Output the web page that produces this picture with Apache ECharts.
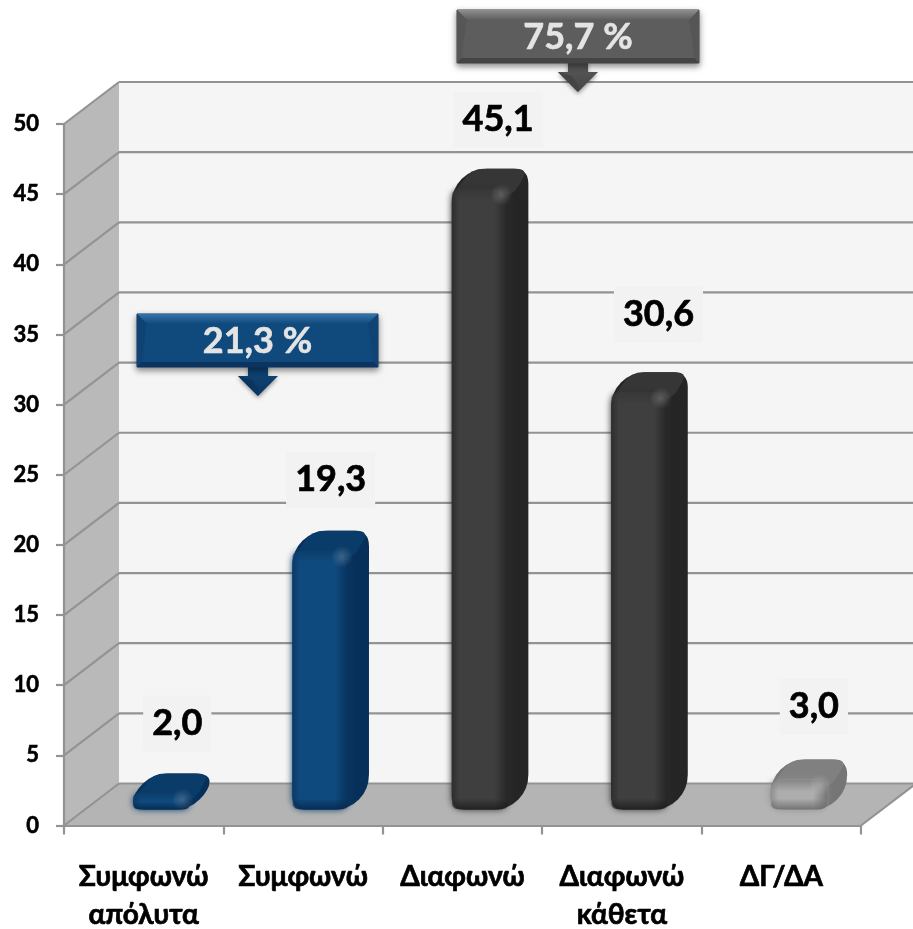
<!DOCTYPE html>
<html><head><meta charset="utf-8">
<style>html,body{margin:0;padding:0;background:#fff}#c{width:913px;height:929px}</style>
<script src="https://cdn.jsdelivr.net/npm/echarts@6/dist/echarts.min.js"></script>
</head><body><div id="c"></div>
<script>
const categories = ['Συμφωνώ\nαπόλυτα','Συμφωνώ','Διαφωνώ','Διαφωνώ\nκάθετα','ΔΓ/ΔΑ'];
const values = [2.0,19.3,45.1,30.6,3.0];
const valueLabels = ['2,0','19,3','45,1','30,6','3,0'];
const yTicks = [0,5,10,15,20,25,30,35,40,45,50];
const callouts = ['75,7 %','21,3 %'];

const FONT = 'Lato, "Noto Sans", sans-serif';
const WALL_DX = 55, WALL_DY = -42, GRID = '#939393';
const PAL = [
 {c:'#0f4a7f',e:'#0a3a66',s:'#06305a',t:'#0a3c69',edge:'#05274c'},
 {c:'#0f4a7f',e:'#0a3a66',s:'#06305a',t:'#0a3c69',edge:'#05274c'},
 {c:'#3f3f3f',e:'#2e2e2e',s:'#252525',t:'#363636',edge:'#1c1c1c'},
 {c:'#3f3f3f',e:'#2e2e2e',s:'#252525',t:'#363636',edge:'#1c1c1c'},
 {c:'#adadad',e:'#8e8e8e',s:'#757575',t:'#808080',edge:'#6a6a6a'}
];
const LABEL_NUDGE = [[6,1],[0,0],[8,2],[9,-7],[5,-2]];

function alpha(hex,a){
  const n=parseInt(hex.slice(1),16);
  return 'rgba('+(n>>16)+','+((n>>8)&255)+','+(n&255)+','+a+')';
}
function roundPoly(pts,r){
  let d='';const n=pts.length;
  for(let i=0;i<n;i++){
    const p=pts[i],a=pts[(i+n-1)%n],b=pts[(i+1)%n];
    const la=Math.hypot(a[0]-p[0],a[1]-p[1]),lb=Math.hypot(b[0]-p[0],b[1]-p[1]);
    const ra=Math.min(r,la/2),rb=Math.min(r,lb/2);
    const s=[p[0]+(a[0]-p[0])*ra/la,p[1]+(a[1]-p[1])*ra/la];
    const e=[p[0]+(b[0]-p[0])*rb/lb,p[1]+(b[1]-p[1])*rb/lb];
    d+=(i?'L':'M')+s[0]+' '+s[1]+'Q'+p[0]+' '+p[1]+' '+e[0]+' '+e[1];
  }
  return d+'Z';
}
function lin(x0,y0,x1,y1,stops){return {type:'linear',x:x0,y:y0,x2:x1,y2:y1,colorStops:stops.map(s=>({offset:s[0],color:s[1]}))};}

function renderWalls(params,api){
  const v=api.value(0),cs=params.coordSys;
  const x0=cs.x,x1=cs.x+cs.width,y=api.coord([0,v])[1];
  const lineStyle={stroke:GRID,lineWidth:2.2};
  const seg=(a,b,c,d)=>({type:'line',shape:{x1:a,y1:b,x2:c,y2:d},style:lineStyle});
  const kids=[];
  if(params.dataIndex===0){
    const yb=y,yt=api.coord([0,yTicks[yTicks.length-1]])[1];
    kids.push({type:'polygon',shape:{points:[[x0+WALL_DX,yt+WALL_DY],[x1+WALL_DX,yt+WALL_DY],[x1+WALL_DX,yb+WALL_DY],[x0+WALL_DX,yb+WALL_DY]]},style:{fill:'#f5f5f5'}});
    kids.push({type:'polygon',shape:{points:[[x0,yt],[x0+WALL_DX,yt+WALL_DY],[x0+WALL_DX,yb+WALL_DY],[x0,yb]]},style:{fill:'#b9b9b9'}});
    kids.push({type:'polygon',shape:{points:[[x0,yb],[x1,yb],[x1+WALL_DX,yb+WALL_DY],[x0+WALL_DX,yb+WALL_DY]]},style:{fill:'#b4b4b4'}});
    kids.push(seg(x1,yb,x1+WALL_DX,yb+WALL_DY));
  }
  kids.push(seg(x0,y,x0+WALL_DX,y+WALL_DY));
  kids.push(seg(x0+WALL_DX,y+WALL_DY,x1+WALL_DX,y+WALL_DY));
  return {type:'group',children:kids};
}

function renderBars(params,api){
  const i=api.value(0),v=api.value(1),p=PAL[i];
  const c=api.coord([i,v]),y0=api.coord([i,0])[1];
  const band=api.size([1,0])[0];
  const w=band*0.355,d=20;
  const xl=c[0]+band*0.173-w/2-d/2,xr=xl+w;
  const yt=c[1]-4,yb=y0-16;
  const r=Math.min(12,(yb-yt)/2);
  const h=yb-yt,ed=Math.min(11,h/2),td=Math.min(12,h/2);
  const kids=[];
  kids.push({type:'path',shape:{pathData:roundPoly([[xl,yb],[xr,yb],[xr+d,yb-d],[xr+d,yt-d],[xl+d,yt-d],[xl,yt]],15)},style:{fill:p.s}});
  kids.push({type:'path',shape:{pathData:roundPoly([[xl,yt+8],[xr+4,yt+8],[xr+d,yt-d],[xl+d,yt-d]],12)},style:{fill:p.t}});
  kids.push({type:'path',shape:{pathData:roundPoly([[xl,yt],[xr,yt],[xr,yb],[xl,yb]],r)},
    style:{fill:lin(0,0,1,0,[[0,p.e],[0.14,p.c],[0.75,p.c],[1,p.s]]),shadowBlur:7,shadowColor:p.e}});
  kids.push({type:'path',shape:{pathData:roundPoly([[xl,yb-ed],[xr,yb-ed],[xr,yb],[xl,yb]],Math.min(r,ed))},
    style:{fill:lin(0,0,0,1,[[0,alpha(p.edge,0)],[1,alpha(p.edge,0.85)]])}});
  kids.push({type:'path',shape:{pathData:roundPoly([[xl,yt],[xr,yt],[xr,yt+td],[xl,yt+td]],Math.min(r,td))},
    style:{fill:lin(0,0,0,1,[[0,alpha(p.t,0.9)],[1,alpha(p.t,0)]])}});
  kids.push({type:'circle',shape:{cx:xr-7,cy:yt+6,r:11},
    style:{fill:{type:'radial',x:0.5,y:0.5,r:0.5,colorStops:[{offset:0,color:'rgba(255,255,255,0.2)'},{offset:1,color:'rgba(255,255,255,0)'}]}}});
  return {type:'group',children:kids};
}

function renderLabels(params,api){
  const i=api.value(0),v=api.value(1);
  const c=api.coord([i,v]),band=api.size([1,0])[0],n=LABEL_NUDGE[i];
  return {type:'text',style:{text:valueLabels[i],x:c[0]+band*0.173+n[0],y:c[1]-75+n[1],
    align:'center',verticalAlign:'middle',font:'bold 36px '+FONT,fill:'#000',stroke:'#000',lineWidth:0.7,
    backgroundColor:'#f2f2f2',padding:[10,9,10,9]}};
}

function callout(x,y,w,h,ax,tip,text,col){
  const head=20,stem=10,headTop=y+h+9;
  return [
   {type:'polygon',z:50,shape:{points:[[ax-stem,y+h-3],[ax+stem,y+h-3],[ax+stem,headTop],[ax+head,headTop],[ax,tip],[ax-head,headTop],[ax-stem,headTop]]},
    style:{fill:lin(0,0,0,1,[[0,col.mid],[1,col.dark]]),shadowBlur:4,shadowColor:'rgba(0,0,0,0.4)',shadowOffsetY:2}},
   {type:'polygon',z:50,shape:{points:[[ax,tip],[ax-head,headTop],[ax-stem*0.6,headTop+4],[ax,tip-7]]},style:{fill:col.dark}},
   {type:'rect',z:51,shape:{x,y,width:w,height:h},style:{fill:col.mid,stroke:col.dark,lineWidth:1,shadowBlur:6,shadowColor:'rgba(0,0,0,0.45)',shadowOffsetY:3}},
   {type:'polygon',z:52,shape:{points:[[x,y],[x+w,y],[x+w-10,y+10],[x+10,y+10]]},style:{fill:lin(0,0,0,1,[[0,col.light],[1,col.mid]])}},
   {type:'polygon',z:52,shape:{points:[[x,y+h],[x+w,y+h],[x+w-4,y+h-5],[x+4,y+h-5]]},style:{fill:col.dark}},
   {type:'polygon',z:52,shape:{points:[[x,y],[x+10,y+10],[x+4,y+h-5],[x,y+h]]},style:{fill:col.side}},
   {type:'polygon',z:52,shape:{points:[[x+w,y],[x+w-10,y+10],[x+w-4,y+h-5],[x+w,y+h]]},style:{fill:col.side}},
   {type:'text',z:53,style:{text,x:x+w/2,y:y+h/2+1,align:'center',verticalAlign:'middle',font:'bold 36px '+FONT,fill:'#e4e4e4',stroke:'#e4e4e4',lineWidth:0.6}}
  ];
}
const GREY={mid:'#5d5d5d',dark:'#444444',light:'#8f8f8f',side:'#565656'};
const BLUE={mid:'#10497c',dark:'#0b3560',light:'#3274aa',side:'#0e4373'};

const chart=echarts.init(document.getElementById('c'),null,{renderer:'canvas'});
chart.setOption({
  animation:false,
  backgroundColor:'#ffffff',
  textStyle:{fontFamily:FONT},
  grid:{left:64,right:52,top:124,bottom:103.5,containLabel:false,outerBoundsMode:'none'},
  xAxis:{type:'category',data:categories,z:10,boundaryGap:true,
    axisLine:{lineStyle:{color:GRID,width:2.2}},
    axisTick:{show:true,length:9,alignWithLabel:false,lineStyle:{color:GRID,width:2.2}},
    axisLabel:{interval:0,color:'#000',fontWeight:'bold',fontSize:28,lineHeight:38,margin:32,fontFamily:FONT,textBorderColor:'#000',textBorderWidth:0.7}},
  yAxis:{type:'value',min:0,max:50,interval:5,z:10,
    axisLine:{show:true,lineStyle:{color:GRID,width:2.2}},
    axisTick:{show:true,length:8,lineStyle:{color:GRID,width:2.2}},
    splitLine:{show:false},
    axisLabel:{color:'#000',fontWeight:'bold',fontSize:22,margin:25,fontFamily:FONT,textBorderColor:'#000',textBorderWidth:0.6}},
  series:[
    {type:'custom',name:'walls',silent:true,clip:false,z:1,coordinateSystem:'cartesian2d',encode:{x:-1,y:0},
      data:yTicks.map(v=>[v]),renderItem:renderWalls},
    {type:'custom',name:'bars',clip:false,z:3,encode:{x:0,y:1},
      data:values.map((v,i)=>[i,v]),renderItem:renderBars},
    {type:'custom',name:'labels',clip:false,z:4,encode:{x:0,y:1},
      data:values.map((v,i)=>[i,v]),renderItem:renderLabels}
  ],
  graphic:[].concat(
    callout(457,10,242,53,578,92,callouts[0],GREY),
    callout(137,314,241,53,258,396,callouts[1],BLUE)
  )
});
</script></body></html>
